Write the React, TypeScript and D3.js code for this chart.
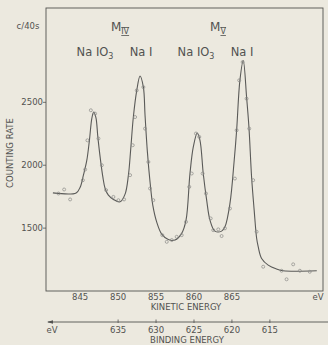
import React from "react";
import * as d3 from "d3";

// Fitted curve (kinetic energy eV, counts / 40 s)
const curveE = [841.41, 844.47, 845.0, 845.43, 845.88, 846.22, 846.54, 846.78, 847.07, 847.33, 847.63, 847.99, 848.29, 848.72, 849.38, 850.26, 850.92, 851.36, 851.67, 852.01, 852.46, 852.89, 853.33, 853.55, 853.86, 854.21, 854.57, 855.09, 855.75, 856.62, 857.5, 858.38, 858.95, 859.47, 859.91, 860.43, 860.79, 861.22, 861.67, 862.11, 862.76, 863.64, 864.08, 864.74, 865.3, 865.62, 866.05, 866.49, 866.93, 867.24, 867.59, 867.93, 868.25, 868.46, 868.91, 869.78, 870.88, 871.75, 876.18];
const curveC = [1780, 1780, 1825, 1921, 2040, 2198, 2373, 2423, 2381, 2225, 2066, 1907, 1815, 1762, 1728, 1709, 1770, 1921, 2133, 2383, 2595, 2709, 2621, 2397, 2106, 1867, 1683, 1548, 1452, 1409, 1405, 1458, 1563, 1934, 2145, 2256, 2198, 1934, 1722, 1563, 1476, 1476, 1510, 1696, 2040, 2278, 2675, 2833, 2542, 2304, 1907, 1643, 1421, 1352, 1259, 1206, 1175, 1161, 1161];

// Measured points
const pointE = [842.14, 842.89, 843.68, 845.36, 845.66, 845.96, 846.41, 846.97, 847.41, 847.86, 848.42, 849.38, 850.04, 850.79, 851.58, 851.93, 852.24, 852.46, 853.33, 853.55, 853.99, 854.21, 854.64, 855.83, 856.41, 857.07, 857.72, 858.38, 858.95, 859.38, 859.7, 860.26, 860.7, 861.14, 861.58, 862.2, 862.54, 863.2, 863.64, 864.08, 864.74, 865.39, 865.62, 865.96, 866.41, 866.93, 867.28, 867.8, 868.25, 869.12, 871.54, 872.2, 873.07, 873.95, 875.26];
const pointC = [1775, 1807, 1728, 1881, 1966, 2198, 2437, 2410, 2212, 2000, 1802, 1748, 1722, 1728, 1921, 2159, 2383, 2595, 2621, 2291, 2026, 1815, 1722, 1444, 1391, 1405, 1431, 1444, 1550, 1828, 1934, 2252, 2225, 1934, 1775, 1577, 1484, 1490, 1437, 1498, 1656, 1894, 2278, 2675, 2820, 2529, 2291, 1881, 1471, 1193, 1161, 1093, 1212, 1161, 1153];

const yTicks = [1500, 2000, 2500];
const kineticTicks = [845, 850, 855, 860, 865];
const bindingTicks = [635, 630, 625, 620, 615];
const photonEnergy = 1485;

const W = 328;
const H = 345;
const left = 46, right = 323, top = 8, bottom = 291;

export default function App() {
  const x = d3.scaleLinear().domain([840.5, 877]).range([left, right]);
  const y = d3.scaleLinear().domain([1000, 3250]).range([bottom, top]);
  const xb = d3.scaleLinear().domain([photonEnergy - 840.5, photonEnergy - 877]).range([left, right]);

  const line = d3
    .line<number>()
    .x((_, i) => x(curveE[i]))
    .y((_, i) => y(curveC[i]))
    .curve(d3.curveCatmullRom.alpha(0.5));

  const ink = "#525250";
  const font = "DejaVu Sans, Verdana, sans-serif";
  const bAxisY = 322;

  return (
    <svg
      width={W}
      height={H}
      style={{ position: "absolute", left: 0, top: 0, background: "#ece9df" }}
      fontFamily={font}
    >
      <rect x={0} y={0} width={W} height={H} fill="#ece9df" />
      <rect x={left} y={top} width={right - left} height={bottom - top} fill="none" stroke={ink} strokeWidth={0.9} />

      {/* y ticks */}
      {yTicks.map((t) => (
        <g key={t}>
          <line x1={left - 3} x2={left} y1={y(t)} y2={y(t)} stroke={ink} strokeWidth={0.8} />
          <text x={left - 3} y={y(t) + 3} textAnchor="end" fontSize={8.5} fill={ink}>
            {t}
          </text>
        </g>
      ))}
      <text x={28} y={29} textAnchor="middle" fontSize={8.5} fill={ink}>
        c/40s
      </text>
      <text
        transform={`translate(13, 153) rotate(-90)`}
        textAnchor="middle"
        fontSize={8.5}
        fill={ink}
      >
        COUNTING RATE
      </text>

      {/* curve */}
      <path d={line(curveE) || ""} fill="none" stroke="#5a5a58" strokeWidth={1.1} />
      {pointE.map((e, i) => (
        <circle key={i} cx={x(e)} cy={y(pointC[i])} r={1.5} fill="none" stroke="#8a8a86" strokeWidth={0.7} />
      ))}

      {/* peak labels */}
      <text x={120} y={31} textAnchor="middle" fontSize={12} fill={ink}>
        M
        <tspan fontSize={8} dy={3} style={{ textDecoration: "overline underline" }}>IV</tspan>
      </text>
      <text x={218} y={31} textAnchor="middle" fontSize={12} fill={ink}>
        M
        <tspan fontSize={8} dy={3} style={{ textDecoration: "overline underline" }}>V</tspan>
      </text>
      <text x={95} y={56} textAnchor="middle" fontSize={11.5} fill={ink}>
        Na IO<tspan fontSize={8} dy={3}>3</tspan>
      </text>
      <text x={141} y={56} textAnchor="middle" fontSize={11.5} fill={ink}>
        Na I
      </text>
      <text x={196} y={56} textAnchor="middle" fontSize={11.5} fill={ink}>
        Na IO<tspan fontSize={8} dy={3}>3</tspan>
      </text>
      <text x={242} y={56} textAnchor="middle" fontSize={11.5} fill={ink}>
        Na I
      </text>

      {/* kinetic axis labels */}
      {kineticTicks.map((t) => (
        <text key={t} x={x(t)} y={300} textAnchor="middle" fontSize={8.5} fill={ink}>
          {t}
        </text>
      ))}
      <text x={318} y={300} textAnchor="middle" fontSize={8.5} fill={ink}>
        eV
      </text>
      <text x={186} y={310} textAnchor="middle" fontSize={8.5} fill={ink}>
        KINETIC ENERGY
      </text>

      {/* binding axis */}
      <line x1={48} x2={328} y1={bAxisY} y2={bAxisY} stroke={ink} strokeWidth={0.9} />
      <path d={`M47,${bAxisY} L53,${bAxisY - 1.8} L53,${bAxisY + 1.8} Z`} fill={ink} />
      {bindingTicks.map((t) => (
        <g key={t}>
          <line x1={xb(t)} x2={xb(t)} y1={bAxisY - 2.5} y2={bAxisY + 1} stroke={ink} strokeWidth={0.8} />
          <text x={xb(t)} y={333} textAnchor="middle" fontSize={8.5} fill={ink}>
            {t}
          </text>
        </g>
      ))}
      <text x={52} y={333} textAnchor="middle" fontSize={8.5} fill={ink}>
        eV
      </text>
      <text x={187} y={343} textAnchor="middle" fontSize={8.5} fill={ink}>
        BINDING ENERGY
      </text>
    </svg>
  );
}
